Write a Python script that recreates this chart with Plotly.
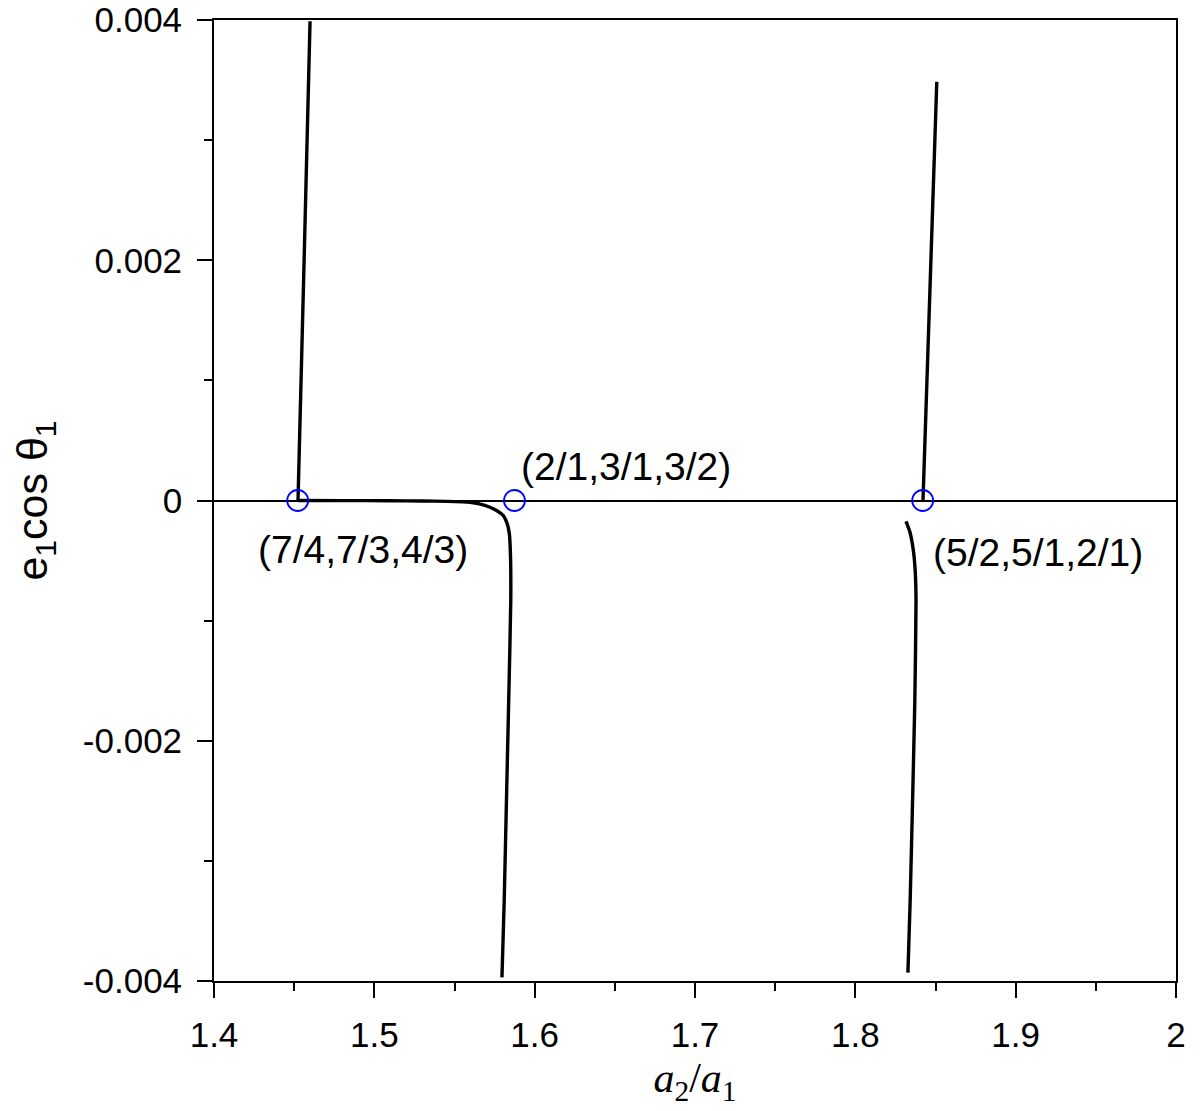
import plotly.graph_objects as go

# branch above the 7/4 point
upper_left_x = [1.4524, 1.4562, 1.4599]
upper_left_y = [0.0, 0.0020, 0.00399]

# branch that runs along zero and turns down near 1.58
lower_mid_x = [1.4524, 1.480, 1.510, 1.530, 1.545, 1.5597, 1.5655, 1.5721, 1.5765,
               1.5804, 1.5828, 1.5842, 1.5849, 1.5851, 1.5838, 1.5824, 1.5810, 1.5796]
lower_mid_y = [0.0, -0.000001, -0.000002, -0.000004, -0.000007, -0.000015, -0.000028, -0.000056,
               -0.000085, -0.000125, -0.00019, -0.000275, -0.00045, -0.00083, -0.00167,
               -0.0025, -0.00333, -0.00397]

# branch above the 5/2 point
upper_right_x = [1.8422, 1.8465, 1.8508]
upper_right_y = [0.0, 0.00174, 0.003486]

# branch below the 5/2 point
lower_right_x = [1.8316, 1.8340, 1.8362, 1.8374, 1.83785, 1.8371, 1.8357, 1.8342, 1.8328]
lower_right_y = [-0.000173, -0.00026, -0.000417, -0.0006, -0.000833, -0.001667, -0.0025,
                 -0.00333, -0.00393]

# resonance points
res_x = [1.4522, 1.5874, 1.8420]
res_y = [0.0, 0.0, 0.0]
res_labels = ["(7/4,7/3,4/3)", "(2/1,3/1,3/2)", "(5/2,5/1,2/1)"]
label_x = [1.4929, 1.6570, 1.9139]
label_y = [-0.000408, 0.000283, -0.000433]

x_ticks = [1.4, 1.5, 1.6, 1.7, 1.8, 1.9, 2.0]
x_ticktext = ["1.4", "1.5", "1.6", "1.7", "1.8", "1.9", "2"]
y_ticks = [-0.004, -0.002, 0.0, 0.002, 0.004]
y_ticktext = ["-0.004", "-0.002", "0", "0.002", "0.004"]

FONT = "Arial, Liberation Sans, sans-serif"

fig = go.Figure()

for xs, ys in [(upper_left_x, upper_left_y), (lower_mid_x, lower_mid_y),
               (upper_right_x, upper_right_y), (lower_right_x, lower_right_y)]:
    fig.add_trace(go.Scatter(
        x=xs, y=ys, mode="lines",
        line=dict(color="black", width=3.4, shape="spline", smoothing=0.5),
        showlegend=False, hoverinfo="skip"
    ))

fig.add_trace(go.Scatter(
    x=res_x, y=res_y, mode="markers",
    marker=dict(size=21, color="rgba(0,0,0,0)", line=dict(color="blue", width=1.8)),
    showlegend=False
))

for lx, ly, txt in zip(label_x, label_y, res_labels):
    fig.add_annotation(x=lx, y=ly, text=txt, showarrow=False,
                       font=dict(family=FONT, size=39, color="black"))

# page body adds 8px offset, margins compensate
fig.update_layout(
    width=1200, height=1111,
    margin=dict(l=206, r=32, t=12, b=138),
    plot_bgcolor="white", paper_bgcolor="white",
    font=dict(family=FONT, color="black"),
    xaxis=dict(
        range=[1.4, 2.0], tickvals=x_ticks, ticktext=x_ticktext, automargin=False,
        ticks="outside", ticklen=15, tickwidth=1.8, tickcolor="black", ticklabelstandoff=7,
        ticklabeloverflow="allow",
        minor=dict(ticks="outside", ticklen=8, dtick=0.05, tick0=1.4, tickwidth=1.8, tickcolor="black"),
        showline=True, linecolor="black", linewidth=1.8, mirror=True,
        showgrid=False, zeroline=False,
        tickfont=dict(family=FONT, size=35),
        title=dict(text="<i>a</i><sub>2</sub>/<i>a</i><sub>1</sub>",
                   font=dict(family="Times New Roman, Liberation Serif, serif", size=42),
                   standoff=10),
    ),
    yaxis=dict(
        range=[-0.004, 0.004], tickvals=y_ticks, ticktext=y_ticktext, automargin=False,
        ticks="outside", ticklen=15, tickwidth=1.8, tickcolor="black", ticklabelstandoff=8,
        ticklabeloverflow="allow",
        minor=dict(ticks="outside", ticklen=8, dtick=0.001, tick0=0, tickwidth=1.8, tickcolor="black"),
        showline=True, linecolor="black", linewidth=1.8, mirror=True,
        showgrid=False, zeroline=True, zerolinecolor="black", zerolinewidth=1.5,
        tickfont=dict(family=FONT, size=35),
        title=dict(text="e<sub>1</sub>cos θ<sub>1</sub>", font=dict(family=FONT, size=43),
                   standoff=40),
    ),
)

fig.write_html("out.html")
